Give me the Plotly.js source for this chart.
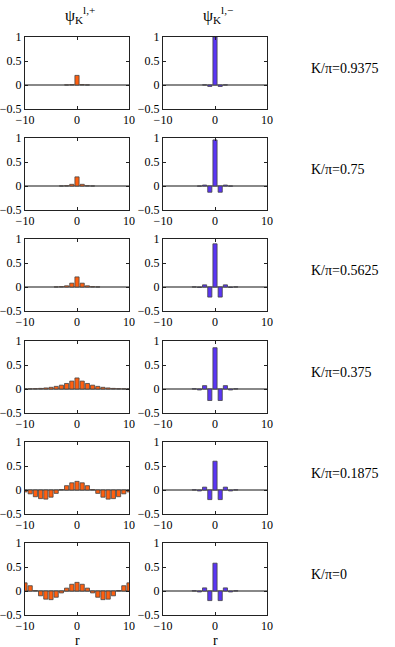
<!DOCTYPE html>
<html>
<head>
<meta charset="utf-8">
<script src="https://cdn.plot.ly/plotly-3.0.1.min.js"></script>
<style>
  html, body { margin: 0; padding: 0; background: #fff; }
  #chart { width: 395px; height: 647px; }
</style>
</head>
<body>
<div id="chart"></div>
<script>
// site index r
const r = [-10, -9, -8, -7, -6, -5, -4, -3, -2, -1, 0, 1, 2, 3, 4, 5, 6, 7, 8, 9, 10];

const kLabels = ['K/π=0.9375', 'K/π=0.75', 'K/π=0.5625', 'K/π=0.375', 'K/π=0.1875', 'K/π=0'];

// psi^{l,+} (orange column), one array per K
const plusK0 = [0, 0, 0, 0, 0, 0, 0, 0, 0.002, 0.01, 0.2, 0.01, 0.002, 0, 0, 0, 0, 0, 0, 0, 0];
const plusK1 = [0, 0, 0, 0, 0, 0, 0, 0.001, 0.006, 0.035, 0.19, 0.035, 0.006, 0.001, 0, 0, 0, 0, 0, 0, 0];
const plusK2 = [0, 0, 0, 0, 0, 0, 0.002, 0.008, 0.025, 0.08, 0.21, 0.08, 0.025, 0.008, 0.002, 0, 0, 0, 0, 0, 0];
const plusK3 = [0.002, 0.004, 0.007, 0.013, 0.022, 0.035, 0.055, 0.08, 0.115, 0.165, 0.23, 0.165, 0.115, 0.08, 0.055, 0.035, 0.022, 0.013, 0.007, 0.004, 0.002];
const plusK4 = [-0.04, -0.08, -0.14, -0.18, -0.19, -0.15, -0.07, 0.01, 0.09, 0.15, 0.18, 0.15, 0.09, 0.01, -0.07, -0.15, -0.19, -0.18, -0.14, -0.08, -0.04];
const plusK5 = [0.17, 0.11, 0.01, -0.1, -0.17, -0.18, -0.13, -0.04, 0.06, 0.14, 0.18, 0.14, 0.06, -0.04, -0.13, -0.18, -0.17, -0.1, 0.01, 0.11, 0.17];

// psi^{l,-} (blue column), one array per K
const minusK0 = [0, 0, 0, 0, 0, 0, 0, 0, 0.003, -0.03, 1.0, -0.03, 0.003, 0, 0, 0, 0, 0, 0, 0, 0];
const minusK1 = [0, 0, 0, 0, 0, 0, 0, -0.003, 0.02, -0.13, 0.96, -0.13, 0.02, -0.003, 0, 0, 0, 0, 0, 0, 0];
const minusK2 = [0, 0, 0, 0, 0, 0, 0.002, -0.01, 0.045, -0.21, 0.9, -0.21, 0.045, -0.01, 0.002, 0, 0, 0, 0, 0, 0];
const minusK3 = [0, 0, 0, 0, 0, 0, 0.005, -0.02, 0.07, -0.24, 0.86, -0.24, 0.07, -0.02, 0.005, 0, 0, 0, 0, 0, 0];
const minusK4 = [0, 0, 0, 0, 0, 0, 0.005, -0.02, 0.06, -0.2, 0.6, -0.2, 0.06, -0.02, 0.005, 0, 0, 0, 0, 0, 0];
const minusK5 = [0, 0, 0, 0, 0, 0, 0.006, -0.02, 0.065, -0.2, 0.58, -0.2, 0.065, -0.02, 0.006, 0, 0, 0, 0, 0, 0];

const plusRows = [plusK0, plusK1, plusK2, plusK3, plusK4, plusK5];
const minusRows = [minusK0, minusK1, minusK2, minusK3, minusK4, minusK5];

const W = 395, H = 647;
const serif = "'Liberation Serif', 'Times New Roman', Times, serif";
const font = { family: serif, size: 12, color: '#000' };
const colX = [[25, 129], [163, 267]];
const rowTop = [37, 138, 239, 341, 442, 543];
const boxH = 72;

const traces = [];
const layout = {
  width: W, height: H,
  margin: { l: 0, r: 0, t: 0, b: 0 },
  paper_bgcolor: '#fff', plot_bgcolor: '#fff',
  showlegend: false,
  font: font,
  annotations: []
};

function axisBase() {
  return {
    showline: true, linecolor: '#222', linewidth: 1, mirror: 'ticks',
    ticks: 'inside', ticklen: 3, tickcolor: '#222',
    showgrid: false, fixedrange: true,
    tickfont: { family: serif, size: 12, color: '#000' }
  };
}

let n = 0;
for (let i = 0; i < 6; i++) {
  for (let c = 0; c < 2; c++) {
    n++;
    const sfx = n === 1 ? '' : String(n);
    const vals = c === 0 ? plusRows[i] : minusRows[i];
    traces.push({
      type: 'bar',
      x: r,
      y: vals,
      width: 0.8,
      marker: {
        color: c === 0 ? '#ff5f0f' : '#5a35f5',
        // no outline on empty bars so the zero line stays solid
        line: { color: '#444', width: vals.map(v => v === 0 ? 0 : 0.8) }
      },
      xaxis: 'x' + sfx,
      yaxis: 'y' + sfx,
      hoverinfo: 'skip'
    });
    const top = rowTop[i], bot = rowTop[i] + boxH;
    layout['xaxis' + sfx] = Object.assign(axisBase(), {
      domain: [colX[c][0] / W, colX[c][1] / W],
      range: [-10, 10],
      tickvals: [-10, 0, 10],
      ticktext: ['\u221210', '0', '10'],
      zeroline: false,
      anchor: 'y' + sfx
    });
    layout['yaxis' + sfx] = Object.assign(axisBase(), {
      domain: [1 - bot / H, 1 - top / H],
      range: [-0.5, 1],
      tickvals: [-0.5, 0, 0.5, 1],
      ticktext: ['\u22120.5', '0', '0.5', '1'],
      zeroline: true, zerolinecolor: '#888', zerolinewidth: 1.2,
      anchor: 'x' + sfx
    });
  }
  layout.annotations.push({
    text: kLabels[i], xref: 'paper', yref: 'paper',
    x: 309 / W, xanchor: 'left',
    y: 1 - (rowTop[i] + 31) / H, yanchor: 'middle',
    showarrow: false, font: { family: serif, size: 14 }
  });
}

// column headers and the r axis label under the bottom panels
layout.annotations.push(
  { text: 'ψ<sub>K</sub><sup>l,+</sup>', xref: 'paper', yref: 'paper', x: 80 / W, y: 1 - 15 / H,
    xanchor: 'center', yanchor: 'middle', showarrow: false, font: { family: serif, size: 16 } },
  { text: 'ψ<sub>K</sub><sup>l,−</sup>', xref: 'paper', yref: 'paper', x: 218 / W, y: 1 - 15 / H,
    xanchor: 'center', yanchor: 'middle', showarrow: false, font: { family: serif, size: 16 } },
  { text: 'r', xref: 'paper', yref: 'paper', x: 77 / W, y: 1 - 640 / H,
    xanchor: 'center', yanchor: 'middle', showarrow: false, font: { family: serif, size: 14 } },
  { text: 'r', xref: 'paper', yref: 'paper', x: 215 / W, y: 1 - 640 / H,
    xanchor: 'center', yanchor: 'middle', showarrow: false, font: { family: serif, size: 14 } }
);

Plotly.newPlot('chart', traces, layout, { displayModeBar: false, staticPlot: true });
</script>
</body>
</html>
